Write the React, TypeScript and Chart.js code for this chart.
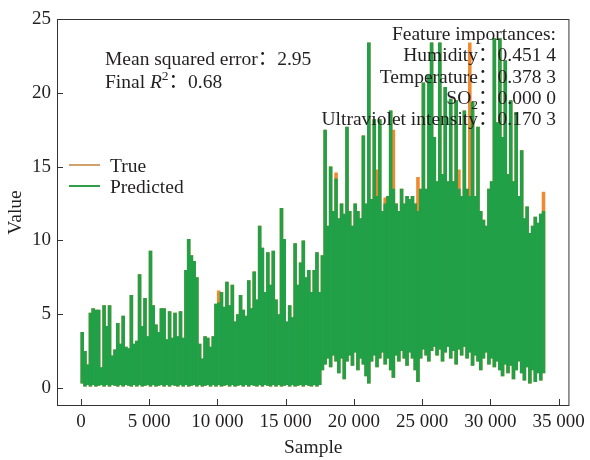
import React, { useEffect, useRef } from 'react';
import { Chart, registerables } from 'chart.js';

Chart.register(...registerables);

const SERIF = '"Liberation Serif", "Times New Roman", "Noto Sans CJK SC", serif';
const TEXT = '#231f20';

// Samples are grouped in bins of BIN samples; each bin holds the max and min value seen in it.
const BIN = 200;

const predHigh = [
  3.8, 2.5, 1.6, 5.1, 5.4, 5.3, 5.3, 1.4, 5.6, 4.2,
  5.6, 2.2, 2.6, 4.4, 3.0, 4.9, 2.8, 2.7, 6.3, 3.0,
  3.2, 7.7, 4.2, 6.1, 3.5, 9.3, 5.6, 4.3, 3.8, 5.4,
  5.4, 3.3, 5.2, 3.4, 5.1, 3.5, 5.2, 3.4, 8.0, 10.1,
  9.0, 8.6, 7.5, 3.0, 2.0, 3.5, 3.4, 2.8, 3.5, 5.7,
  5.8, 6.5, 5.5, 7.2, 5.6, 7.0, 4.5, 5.0, 6.3, 5.3,
  4.9, 7.3, 5.4, 7.9, 6.0, 11.0, 9.5, 6.5, 9.2, 7.0,
  9.3, 6.0, 5.0, 12.2, 10.1, 4.5, 5.6, 4.8, 9.8, 7.0,
  8.5, 10.0, 7.5, 8.0, 6.5, 8.0, 9.2, 6.5, 9.0, 17.5,
  11.0, 15.0, 12.0, 14.2, 11.5, 12.5, 11.8, 17.7, 12.0, 11.0,
  12.5, 12.0, 11.5, 17.1, 12.5, 23.4, 12.8, 18.2, 13.0, 18.2,
  12.0, 12.5, 13.0, 18.8, 13.5, 12.5, 12.0, 13.5, 12.5, 13.0,
  12.8, 13.0, 12.5, 12.0, 13.5, 20.7, 13.5, 21.2, 23.4, 17.0,
  14.0, 23.4, 14.5, 20.4, 14.0, 19.6, 14.0, 19.5, 13.5, 13.0,
  18.8, 13.5, 13.0, 19.4, 13.0, 17.7, 12.0, 11.4, 11.0, 13.5,
  14.0, 23.7, 18.0, 23.7, 17.0, 22.2, 14.5, 19.5, 14.0, 18.7,
  13.0, 16.1, 11.5, 12.3, 10.5, 11.0, 11.6, 11.2, 11.8, 12.0,
];

const predLow = [
  0.3, 0.1, 0.2, 0.1, 0.2, 0.1, 0.15, 0.2, 0.1, 0.2,
  0.1, 0.2, 0.15, 0.1, 0.2, 0.1, 0.2, 0.15, 0.1, 0.2,
  0.1, 0.2, 0.1, 0.15, 0.2, 0.1, 0.2, 0.1, 0.15, 0.2,
  0.1, 0.2, 0.1, 0.2, 0.15, 0.1, 0.2, 0.1, 0.2, 0.1,
  0.15, 0.2, 0.1, 0.2, 0.1, 0.15, 0.2, 0.1, 0.2, 0.1,
  0.2, 0.1, 0.15, 0.2, 0.1, 0.2, 0.1, 0.15, 0.2, 0.1,
  0.2, 0.1, 0.2, 0.15, 0.1, 0.2, 0.1, 0.2, 0.15, 0.1,
  0.2, 0.1, 0.2, 0.1, 0.15, 0.2, 0.1, 0.2, 0.1, 0.15,
  0.2, 0.1, 0.2, 0.15, 0.1, 0.2, 0.1, 0.2, 1.2, 1.6,
  2.0, 1.4, 2.2, 1.8, 1.0, 2.0, 0.6, 1.8, 2.2, 1.5,
  2.4, 1.2, 2.0, 1.6, 0.8, 0.3, 1.8, 2.2, 1.4, 2.0,
  2.4, 1.6, 2.0, 1.2, 0.7, 2.2, 1.8, 2.5, 2.0, 1.5,
  2.4, 2.0, 1.2, 0.4, 2.0, 2.6, 2.2, 1.8, 2.5, 2.8,
  2.2, 2.6, 1.8, 2.4, 2.8, 2.0, 2.5, 1.6, 2.6, 2.2,
  2.8, 2.0, 2.4, 1.5, 2.2, 1.8, 1.2, 2.0, 2.4, 1.6,
  2.0, 1.4, 1.8, 1.2, 0.8, 1.6, 1.0, 1.5, 0.6, 1.2,
  1.8, 1.0, 0.5, 1.4, 0.3, 1.2, 0.4, 1.0, 0.5, 1.0,
];

// Bins where the true value rises visibly above the prediction
const truePeakBins = [50, 93, 108, 111, 114, 123, 138, 142, 169];
const truePeakValues = [6.6, 14.6, 14.8, 12.9, 17.5, 14.3, 14.8, 23.4, 13.3];

const xTickValues = [0, 5000, 10000, 15000, 20000, 25000, 30000, 35000];
const xTickLabels = ['0', '5 000', '10 000', '15 000', '20 000', '25 000', '30 000', '35 000'];
const yTickValues = [0, 5, 10, 15, 20, 25];
const yTickLabels = ['0', '5', '10', '15', '20', '25'];

const metricLabels = ['Mean squared error', 'Final '];
const metricValues = ['2.95', '0.68'];
const featureNames = ['Humidity', 'Temperature', 'SO', 'Ultraviolet intensity'];
const featureValues = ['0.451 4', '0.378 3', '0.000 0', '0.170 3'];

const GREEN = '#21a047';
const ORANGE = '#f0892f';

type Run = { t: string; size: number; italic?: boolean; dy?: number };

function drawRuns(ctx: CanvasRenderingContext2D, items: Run[], x: number, y: number, align: 'left' | 'right') {
  const font = (r: Run) => `${r.italic ? 'italic ' : ''}${r.size}px ${SERIF}`;
  let total = 0;
  const widths: number[] = [];
  for (const r of items) {
    ctx.font = font(r);
    const w = ctx.measureText(r.t).width;
    widths.push(w);
    total += w;
  }
  let cx = align === 'right' ? x - total : x;
  items.forEach((r, i) => {
    ctx.font = font(r);
    ctx.fillText(r.t, cx, y + (r.dy || 0));
    cx += widths[i];
  });
}

const decor = {
  id: 'decor',
  afterDraw(chart: any) {
    const { ctx, chartArea: a, scales } = chart;
    ctx.save();
    ctx.strokeStyle = '#333333';
    ctx.lineWidth = 1;
    ctx.strokeRect(a.left + 0.5, a.top + 0.5, a.right - a.left - 1, a.bottom - a.top - 1);
    ctx.beginPath();
    for (const v of yTickValues) {
      const py = Math.round(scales.y.getPixelForValue(v)) + 0.5;
      ctx.moveTo(a.left, py);
      ctx.lineTo(a.left + 6, py);
    }
    for (const v of xTickValues) {
      const px = Math.round(scales.x.getPixelForValue(v)) + 0.5;
      ctx.moveTo(px, a.bottom);
      ctx.lineTo(px, a.bottom - 7);
    }
    ctx.stroke();

    ctx.fillStyle = TEXT;
    ctx.textBaseline = 'alphabetic';
    const S = 19.5;
    drawRuns(ctx, [{ t: metricLabels[0], size: S }, { t: '：', size: S }, { t: metricValues[0], size: S }], 105, 65, 'left');
    drawRuns(ctx, [
      { t: metricLabels[1], size: S },
      { t: 'R', size: S, italic: true },
      { t: '2', size: 13.5, dy: -8 },
      { t: '：', size: S },
      { t: metricValues[1], size: S },
    ], 105, 88, 'left');

    const RX = 556;
    drawRuns(ctx, [{ t: 'Feature importances:', size: S }], RX, 39.5, 'right');
    const base = [61, 82.5, 103.5, 124.5];
    featureNames.forEach((n, i) => {
      const runs: Run[] = [{ t: n, size: S }];
      if (n === 'SO') runs.push({ t: '2', size: 13.5, dy: 5 });
      runs.push({ t: '：', size: S }, { t: featureValues[i], size: S });
      drawRuns(ctx, runs, RX, base[i], 'right');
    });

    const legend = [
      { label: 'True', color: '#d2a26c', y: 165 },
      { label: 'Predicted', color: '#2f9e47', y: 186 },
    ];
    for (const l of legend) {
      ctx.strokeStyle = l.color;
      ctx.lineWidth = 2;
      ctx.beginPath();
      ctx.moveTo(69, l.y);
      ctx.lineTo(100, l.y);
      ctx.stroke();
      drawRuns(ctx, [{ t: l.label, size: S }], 110, l.y + 6.5, 'left');
    }
    ctx.restore();
  },
};

export default function App() {
  const ref = useRef<HTMLCanvasElement>(null);
  useEffect(() => {
    document.body.style.margin = '0';
    const canvas = ref.current!;
    const predBars = predHigh.map((h, i) => ({ x: i * BIN + BIN / 2, y: [predLow[i], h] }));
    const trueBars = predHigh.map((h, i) => {
      const k = truePeakBins.indexOf(i);
      return { x: i * BIN + BIN / 2, y: [predLow[i], k >= 0 ? truePeakValues[k] : h] };
    });
    const barCommon = {
      borderWidth: 0,
      grouped: false,
      barPercentage: 1,
      categoryPercentage: 1.3,
      inflateAmount: 0,
    };
    const chart = new Chart(canvas, {
      type: 'bar',
      data: {
        datasets: [
          { label: 'Predicted', data: predBars, backgroundColor: GREEN, order: 1, ...barCommon },
          { label: 'True', data: trueBars, backgroundColor: ORANGE, order: 2, ...barCommon },
        ],
      },
      options: {
        responsive: false,
        animation: false,
        devicePixelRatio: 1,
        layout: { padding: { top: 19, right: 17, left: 0, bottom: 0 } },
        plugins: { legend: { display: false }, tooltip: { enabled: false } },
        scales: {
          x: {
            type: 'linear',
            offset: false,
            min: -1750,
            max: 35800,
            afterBuildTicks: (s: any) => {
              s.ticks = xTickValues.map((v) => ({ value: v }));
            },
            afterFit: (s: any) => {
              s.height = 54;
            },
            ticks: {
              autoSkip: false,
              maxRotation: 0,
              padding: 5,
              color: TEXT,
              font: { family: SERIF, size: 19 },
              callback: (v: any) => xTickLabels[xTickValues.indexOf(Number(v))],
            },
            grid: { display: false, drawTicks: false },
            border: { display: false },
            title: {
              display: true,
              text: 'Sample',
              color: TEXT,
              font: { family: SERIF, size: 19.5 },
              padding: { top: 0, bottom: 0 },
            },
          },
          y: {
            type: 'linear',
            min: -1.22,
            max: 25,
            afterBuildTicks: (s: any) => {
              s.ticks = yTickValues.map((v) => ({ value: v }));
            },
            afterFit: (s: any) => {
              s.width = 57;
            },
            ticks: {
              padding: 6,
              color: TEXT,
              font: { family: SERIF, size: 19 },
              callback: (v: any) => yTickLabels[yTickValues.indexOf(Number(v))],
            },
            grid: { display: false, drawTicks: false },
            border: { display: false },
            title: {
              display: true,
              text: 'Value',
              color: TEXT,
              font: { family: SERIF, size: 19.5 },
              padding: { top: 4, bottom: 0 },
            },
          },
        },
      },
      plugins: [decor],
    } as any);
    return () => chart.destroy();
  }, []);
  return (
    <div style={{ width: 590, height: 460, background: '#fff' }}>
      <canvas ref={ref} width={590} height={460} style={{ display: 'block', width: 590, height: 460 }} />
    </div>
  );
}
